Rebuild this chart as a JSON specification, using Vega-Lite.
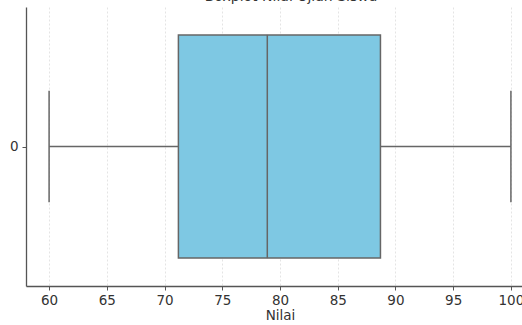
{
  "$schema": "https://vega.github.io/schema/vega-lite/v6.json",
  "autosize": {"type": "none"},
  "width": 508,
  "height": 279,
  "padding": {"left": 26, "top": 7, "right": 0, "bottom": 39},
  "title": {"text": "Boxplot Nilai Ujian Siswa", "fontSize": 14, "font": "DejaVu Sans", "fontWeight": "normal", "color": "#333333", "offset": 3, "dx": 11},
  "config": {
    "view": {"stroke": null},
    "font": "DejaVu Sans",
    "axis": {"labelFont": "DejaVu Sans", "titleFont": "DejaVu Sans", "labelFontSize": 13.5, "titleFontSize": 13.5, "labelColor": "#333333", "titleColor": "#333333", "titleFontWeight": "normal", "domainColor": "#555555", "domainWidth": 1.3, "tickColor": "#555555", "tickSize": 4}
  },
  "data": {"values": [{"group": 0, "min": 60, "q1": 71.2, "median": 78.9, "q3": 88.7, "max": 100, "lo": -0.4, "hi": 0.4, "clo": -0.2, "chi": 0.2}]},
  "layer": [
    {
      "mark": {"type": "rule", "color": "#666666", "strokeWidth": 1.5},
      "encoding": {
        "x": {"field": "min", "type": "quantitative", "scale": {"domain": [58, 102], "nice": false, "zero": false}, "title": "Nilai",
          "axis": {"values": [60, 65, 70, 75, 80, 85, 90, 95, 100], "grid": true, "gridColor": "#dddddd", "gridDash": [2, 2], "gridWidth": 0.8, "labelPadding": 3, "titlePadding": 2}},
        "x2": {"field": "max"},
        "y": {"field": "group", "type": "quantitative", "scale": {"domain": [0.5, -0.5], "nice": false, "zero": false}, "title": null,
          "axis": {"values": [0], "format": "d", "grid": false, "labelPadding": 4}}
      }
    },
    {
      "mark": {"type": "rule", "color": "#666666", "strokeWidth": 1.5},
      "encoding": {"x": {"field": "min", "type": "quantitative"}, "y": {"field": "clo", "type": "quantitative"}, "y2": {"field": "chi"}}
    },
    {
      "mark": {"type": "rule", "color": "#666666", "strokeWidth": 1.5},
      "encoding": {"x": {"field": "max", "type": "quantitative"}, "y": {"field": "clo", "type": "quantitative"}, "y2": {"field": "chi"}}
    },
    {
      "mark": {"type": "rect", "fill": "#7ec8e3", "stroke": "#666666", "strokeWidth": 1.5},
      "encoding": {"x": {"field": "q1", "type": "quantitative"}, "x2": {"field": "q3"}, "y": {"field": "lo", "type": "quantitative"}, "y2": {"field": "hi"}}
    },
    {
      "mark": {"type": "rule", "color": "#666666", "strokeWidth": 1.5},
      "encoding": {"x": {"field": "median", "type": "quantitative"}, "y": {"field": "lo", "type": "quantitative"}, "y2": {"field": "hi"}}
    }
  ]
}
